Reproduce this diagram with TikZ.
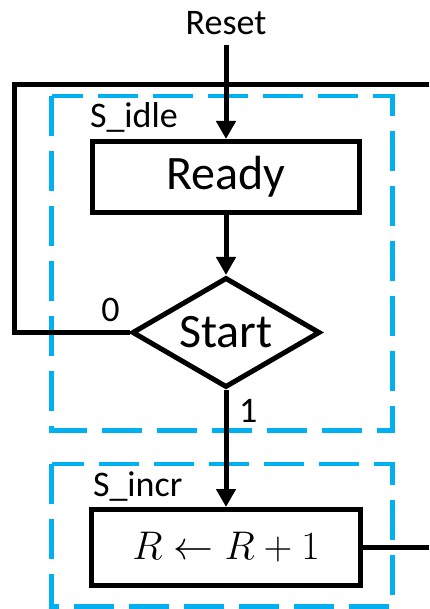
\RequirePackage{fix-cm}
\documentclass[tikz,border=0pt]{standalone}
\usepackage{fontspec}
\setmainfont{Carlito}
\usetikzlibrary{positioning}
\usetikzlibrary{shapes.geometric}
\usetikzlibrary{arrows.meta}
\definecolor{stateblue}{RGB}{0,176,240}

\begin{document}
\begin{tikzpicture}[x=1pt,y=-1pt,line width=5pt,
		>={Triangle[length=18pt,width=19pt]},
		box/.style={draw,rectangle,minimum width=267pt,minimum height=71pt,font=\fontsize{48}{56}\selectfont},
		test/.style={draw,diamond,aspect=1.7,inner sep=0pt,minimum width=188pt,minimum height=110pt,font=\fontsize{48}{56}\selectfont},
		tag/.style={inner sep=0pt,outer sep=0pt,font=\fontsize{36}{42}\selectfont},
		statebox/.style={draw=stateblue,line width=4.5pt,dash pattern=on 40pt off 15pt}]
		\useasboundingbox (0,0) rectangle (429,609);
		% state frames
		\draw[statebox] (51.5,96) rectangle (392.5,430.5);
		\draw[statebox] (51.5,464) rectangle (392.5,606.5);
		\node (ready) [box] at (226,177) {Ready};
		\node (start) [test,below=60pt of ready] {Start};
		\node (incr) [box,minimum width=269pt,minimum height=76pt,font=\fontsize{40}{48}\selectfont,below=117pt of start] {$R \leftarrow R + 1$};
		\node (reset) [tag,inner ysep=10pt,above=94pt of ready] {Reset};
		\coordinate (loopleft) at (14,85);
		\coordinate (loopout) at (429,85);
		\draw (start.west) -| (loopleft) -- (loopout);
		\draw (incr.east) -- (incr.east -| loopout);
		\draw[->] (reset) -- (ready);
		\draw[->] (ready) -- (start);
		\draw[->] (start) -- (incr);
		\node (idletag) [tag,anchor=base west] at ([yshift=11pt]ready.north west) {S\_idle};
		\node (incrtag) [tag,anchor=base west] at ([xshift=4pt,yshift=10.5pt]incr.north west) {S\_incr};
		\node (zero) [tag,anchor=base east] at ([xshift=-10pt,yshift=11pt]start.west) {0};
		\node (one) [tag,anchor=base west] at ([xshift=13pt,yshift=-32pt]start.south) {1};
	\end{tikzpicture}
\end{document}
